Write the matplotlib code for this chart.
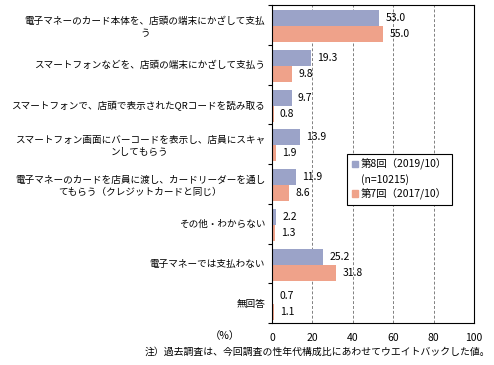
import numpy as np
import matplotlib
matplotlib.use('Agg')
import matplotlib.pyplot as plt
from matplotlib.patches import Rectangle

plt.rcParams['font.family'] = ['Noto Sans CJK JP', 'DejaVu Sans']

categories = [
    '電子マネーのカード本体を、店頭の端末にかざして支払\nう',
    'スマートフォンなどを、店頭の端末にかざして支払う',
    'スマートフォンで、店頭で表示されたQRコードを読み取る',
    'スマートフォン画面にバーコードを表示し、店員にスキャ\nンしてもらう',
    '電子マネーのカードを店員に渡し、カードリーダーを通し\nてもらう（クレジットカードと同じ）',
    'その他・わからない',
    '電子マネーでは支払わない',
    '無回答',
]
wave8 = [53.0, 19.3, 9.7, 13.9, 11.9, 2.2, 25.2, 0.7]
wave7 = [55.0, 9.8, 0.8, 1.9, 8.6, 1.3, 31.8, 1.1]
label8 = '第8回（2019/10）'
label8_n = '(n=10215)'
label7 = '第7回（2017/10）'

c8 = '#9ba3c8'
c7 = '#efa28a'
fs = 7.5

fig = plt.figure(figsize=(4.94, 3.65), dpi=100)
ax = fig.add_axes([0.5506, 0.115, 0.409, 0.871])

y = np.arange(len(categories))
h = 0.4
b8 = ax.barh(y - h / 2 + 0.03, wave8, height=h, color=c8)
b7 = ax.barh(y + h / 2 + 0.03, wave7, height=h, color=c7)
ax.bar_label(b8, fmt='%.1f', padding=4.5, fontsize=fs)
ax.bar_label(b7, fmt='%.1f', padding=4.5, fontsize=fs)

ax.set_xlim(0, 100)
ax.set_ylim(len(categories) - 0.5, -0.5)
ax.set_xticks(range(0, 101, 20))
ax.tick_params(axis='x', length=0, pad=7, labelsize=fs)
ax.set_yticks(y)
ax.set_yticklabels(categories, fontsize=6.9, linespacing=1.45)
for t in ax.get_yticklabels():
    t.set_multialignment('center')
ax.tick_params(axis='y', which='major', length=0, pad=5)
ax.set_yticks(np.arange(-0.5, len(categories), 1), minor=True)
ax.tick_params(axis='y', which='minor', length=3, width=0.8, direction='out')

for gx in range(20, 100, 20):
    ax.axvline(gx, color='#808080', lw=0.7, ls=(0, (3, 2)), zorder=0)
for s in ax.spines.values():
    s.set_linewidth(0.8)
    s.set_color('black')

handles = [Rectangle((0, 0), 1, 1, color=c8),
           Rectangle((0, 0), 1, 1, alpha=0),
           Rectangle((0, 0), 1, 1, color=c7)]
leg = ax.legend(handles, [label8, label8_n, label7], loc='upper left',
                bbox_to_anchor=(0.371, 0.531), borderaxespad=0,
                fontsize=fs, fancybox=False, edgecolor='black',
                handlelength=0.6, handleheight=0.6, handletextpad=0.3,
                labelspacing=0.35, borderpad=0.45, framealpha=1)
leg.get_frame().set_linewidth(0.8)

fig.text(225 / 494, 1 - 336 / 365, '（%）', fontsize=fs, ha='center', va='center')
fig.text(490 / 494, 1 - 352 / 365,
         '注）過去調査は、今回調査の性年代構成比にあわせてウエイトバックした値。',
         fontsize=7.1, ha='right', va='center')

fig.savefig('out.png', dpi=100)
